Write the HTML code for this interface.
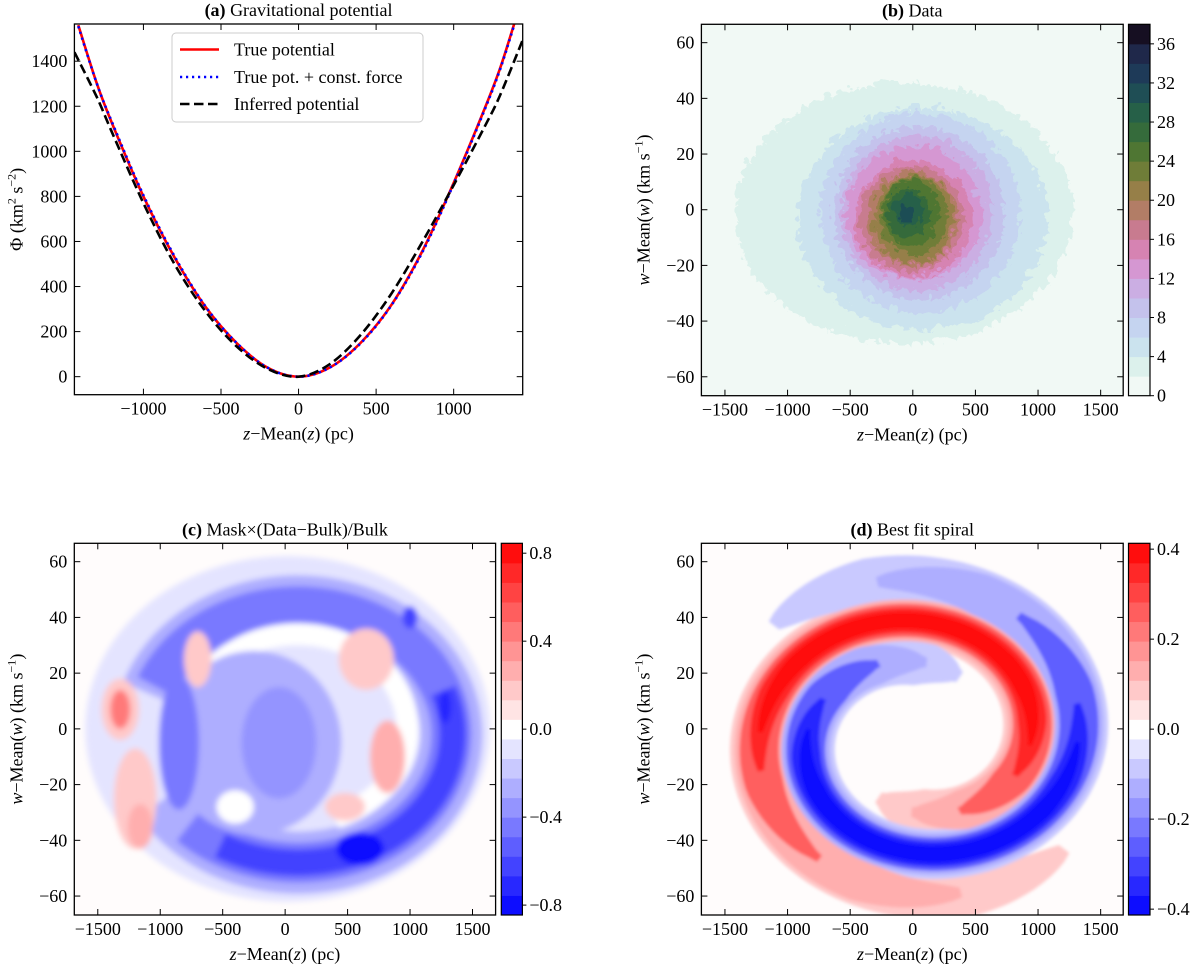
<!DOCTYPE html>
<html><head><meta charset="utf-8"><title>Potential and spiral figure</title>
<style>
html,body{margin:0;padding:0;background:#fff;}
svg{display:block;font-family:"Liberation Serif","DejaVu Serif",serif;}
</style></head>
<body>
<svg id="fig" width="1200" height="965" viewBox="0 0 1200 965" xmlns="http://www.w3.org/2000/svg">
<defs>
<filter id="blur3" x="-10%" y="-10%" width="120%" height="120%"><feGaussianBlur stdDeviation="3"/></filter>
<filter id="blur2" x="-10%" y="-10%" width="120%" height="120%"><feGaussianBlur stdDeviation="1.6"/></filter>
<filter id="rough" x="-10%" y="-10%" width="120%" height="120%">
<feTurbulence type="turbulence" baseFrequency="0.09" numOctaves="2" seed="4" result="t"/>
<feDisplacementMap in="SourceGraphic" in2="t" scale="14" xChannelSelector="R" yChannelSelector="G"/>
</filter>
</defs>
</svg>
<script>
// ---------- Panel (a) data ----------
const zTrue = [-1420,-1300,-1200,-1000,-800,-600,-400,-200,0,200,400,600,800,1000,1200,1300,1390];
const phiTrue = [1560,1300,1120,800,530,310,150,40,0,40,150,320,560,860,1190,1370,1565];
const zConst = [-1420,-1300,-1200,-1000,-800,-600,-400,-200,0,200,400,600,800,1000,1200,1300,1390];
const phiConst = [1555,1300,1125,805,535,312,150,40,0,40,148,318,555,855,1185,1365,1560];
const zInf = [-1445,-1300,-1200,-1000,-800,-600,-400,-200,0,200,400,600,800,1000,1200,1300,1445];
const phiInf = [1440,1240,1080,770,500,290,135,35,0,55,185,370,600,850,1110,1250,1494];
const aXTicks = [-1000,-500,0,500,1000];
const aYTicks = [0,200,400,600,800,1000,1200,1400];
// ---------- Panel (b) data: contour level regions ----------
const bLevels = [2,4,6,8,10,12,14,16,18,20,22,24,26,28,30];
const bCenterZ = [-100,50,30,20,0,-20,-30,-40,-30,-20,-20,-40,-60,-60,-80];
const bCenterW = [0,-2,0,0,0,0,-2,-2,-2,-2,-1,0,0,1,0];
const bSemiZ = [1350,1000,800,680,600,540,470,420,360,320,270,220,170,120,70];
const bSemiW = [47,40,36,31,28,24,21,19,17,16,14,12,9,6,3];
const bCbTicks = [0,4,8,12,16,20,24,28,32,36];
const bCbColors = ['#f1f9f5','#dcf1ec','#cbe3ee','#c5d4f0','#c4c2ec','#cbaee3','#d597d2','#d683b2','#c87b8f','#b27d66','#967f48','#6f7d38','#4f7633','#356b3b','#266048','#1f4e55','#1e3a58','#1f284a','#160f22'];
// ---------- Panel (c) data: blobs (cz, cw, rz, rw, value) ----------
const cBlobZ = [-250,-850,-50,-400,650,820,480,-700,-1200,-1160,-1320,-1320,600,1280,1000];
const cBlobW = [-5,-5,-5,-28,25,-10,-28,25,-25,-35,7,7,-43,8,40];
const cBlobRZ = [700,160,300,150,220,140,160,110,170,100,150,80,190,50,60];
const cBlobRW = [33,24,20,6,11,13,5,10,18,8,11,7,6,6,4];
const cBlobV = [-0.3,-0.45,-0.38,0.0,0.2,0.28,0.15,0.2,0.15,0.3,0.2,0.45,-0.85,-0.7,-0.6];
const cCbTicks = [0.8,0.4,0.0,-0.4,-0.8];
// ---------- Panel (d) data: spiral arm layers ----------
const dStart = [-120,-95,-65,-25,-5];
const dEnd = [320,285,235,195,180];
const dHalf = [0.18,0.15,0.12,0.09,0.06];
const dValue = [0.07,0.15,0.25,0.35,0.4];
const dCbTicks = [0.4,0.2,0.0,-0.2,-0.4];

const svg = document.getElementById('fig');
const NS = 'http://www.w3.org/2000/svg';
const FS = 18;
function mk(tag, attrs, parent){
  const e = document.createElementNS(NS, tag);
  for (const k in attrs) e.setAttribute(k, attrs[k]);
  (parent||svg).appendChild(e);
  return e;
}
function X(p,z){return p.x0+(z-p.xl[0])/(p.xl[1]-p.xl[0])*(p.x1-p.x0);}
function Y(p,w){return p.y1-(w-p.yl[0])/(p.yl[1]-p.yl[0])*(p.y1-p.y0);}
function bwr(v,vmax){
  let t=Math.max(-1,Math.min(1,v/vmax));
  let idx=Math.min(18,Math.floor((t+1)/(2/19)));
  t=-1+(idx+0.5)*2/19;
  if(Math.abs(t)<1e-6) return '#ffffff';
  if(t<0){const c=Math.round(255*(1+t));return `rgb(${c},${c},255)`;}
  const c=Math.round(255*(1-t));return `rgb(255,${c},${c})`;
}
const PA={x0:74.4,x1:522.7,y0:24,y1:394.7,xl:[-1445,1445],yl:[-80,1565]};
const PB={x0:701.4,x1:1123.2,y0:24.3,y1:395.7,xl:[-1688,1680],yl:[-66.8,66.6]};
const PC={x0:74.3,x1:495.6,y0:543.3,y1:915,xl:[-1688,1685],yl:[-66.8,66.6]};
const PD={x0:701.4,x1:1123.2,y0:543.3,y1:915,xl:[-1688,1680],yl:[-66.8,66.6]};
const zTicks=[-1500,-1000,-500,0,500,1000,1500];
const wTicks=[-60,-40,-20,0,20,40,60];
function fmt(v){return (v<0?'\u2212':'')+Math.abs(v);}

function clipFor(p,id){
  const cp=mk('clipPath',{id:id},svg.querySelector('defs'));
  mk('rect',{x:p.x0,y:p.y0,width:p.x1-p.x0,height:p.y1-p.y0},cp);
}

function axes(p,name,title,xt,yt,ylabelKind){
  const g=mk('g',{});
  
  
  const fr=mk('rect',{x:p.x0,y:p.y0,width:p.x1-p.x0,height:p.y1-p.y0,fill:'none',stroke:'#000','stroke-width':1.3},g);
  
  
  xt.forEach(v=>{
    const x=X(p,v);
    mk('line',{x1:x,x2:x,y1:p.y1,y2:p.y1-6,stroke:'#000','stroke-width':1},g);
    mk('line',{x1:x,x2:x,y1:p.y0,y2:p.y0+6,stroke:'#000','stroke-width':1},g);
    const t=mk('text',{x:x,y:p.y1+20,'text-anchor':'middle','font-size':FS},g);
    t.textContent=fmt(v);
    
    
  });
  yt.forEach(v=>{
    const y=Y(p,v);
    mk('line',{x1:p.x0,x2:p.x0+6,y1:y,y2:y,stroke:'#000','stroke-width':1},g);
    mk('line',{x1:p.x1,x2:p.x1-6,y1:y,y2:y,stroke:'#000','stroke-width':1},g);
    const t=mk('text',{x:p.x0-7,y:y+6,'text-anchor':'end','font-size':FS},g);
    t.textContent=fmt(v);
    
    
  });
  const xl=mk('text',{x:(p.x0+p.x1)/2,y:p.y1+45,'text-anchor':'middle','font-size':FS},g);
  xl.innerHTML='<tspan font-style="italic">z</tspan>\u2212Mean(<tspan font-style="italic">z</tspan>) (pc)';
  
  
  const cy=(p.y0+p.y1)/2, lx=p.x0-52;
  const yl=mk('text',{x:lx,y:cy,'text-anchor':'middle','font-size':FS,transform:`rotate(-90 ${lx} ${cy})`},g);
  if(ylabelKind==='phi') yl.innerHTML='\u03A6 (km<tspan dy="-7" font-size="12">2</tspan><tspan dy="7"> s</tspan><tspan dy="-7" font-size="12">\u22122</tspan><tspan dy="7">)</tspan>';
  else yl.innerHTML='<tspan font-style="italic">w</tspan>\u2212Mean(<tspan font-style="italic">w</tspan>) (km s<tspan dy="-7" font-size="12">\u22121</tspan><tspan dy="7">)</tspan>';
  
  
  const tt=mk('text',{x:(p.x0+p.x1)/2,y:p.y0-8,'text-anchor':'middle','font-size':FS},g);
  tt.innerHTML=title;
  
  
}

function colorbar(x0,x1,y0,y1,name,colors,vmin,vmax,ticks,dec){
  const g=mk('g',{});
  
  
  const n=colors.length,h=(y1-y0)/n;
  colors.forEach((c,i)=>{
    const r=mk('rect',{x:x0,y:y1-(i+1)*h,width:x1-x0,height:h+0.5,fill:c},g);
    
    
  });
  mk('rect',{x:x0,y:y0,width:x1-x0,height:y1-y0,fill:'none',stroke:'#000','stroke-width':1.2},g);
  ticks.forEach(v=>{
    const y=y1-(v-vmin)/(vmax-vmin)*(y1-y0);
    mk('line',{x1:x1,x2:x1+4,y1:y,y2:y,stroke:'#000','stroke-width':1},g);
    const t=mk('text',{x:x1+7,y:y+6,'font-size':FS},g);
    t.textContent=dec?( (v<0?'\u2212':'')+Math.abs(v).toFixed(1) ):fmt(v);
    
    
  });
}

// ================= Panel A =================
function smoothPath(p,zs,vs){
  const pts=zs.map((z,i)=>[X(p,z),Y(p,vs[i])]);
  let d=`M${pts[0][0]},${pts[0][1]}`;
  for(let i=0;i<pts.length-1;i++){
    const p0=pts[Math.max(0,i-1)],p1=pts[i],p2=pts[i+1],p3=pts[Math.min(pts.length-1,i+2)];
    const c1=[p1[0]+(p2[0]-p0[0])/6,p1[1]+(p2[1]-p0[1])/6];
    const c2=[p2[0]-(p3[0]-p1[0])/6,p2[1]-(p3[1]-p1[1])/6];
    d+=` C${c1[0]},${c1[1]} ${c2[0]},${c2[1]} ${p2[0]},${p2[1]}`;
  }
  return d;
}
clipFor(PA,'clipA');
const gA=mk('g',{'clip-path':'url(#clipA)'});


const lTrue=mk('path',{d:smoothPath(PA,zTrue,phiTrue),fill:'none',stroke:'#ff0000','stroke-width':2.6},gA);


const lConst=mk('path',{d:smoothPath(PA,zConst,phiConst),fill:'none',stroke:'#0000ff','stroke-width':2.6,'stroke-dasharray':'2.2,3.8'},gA);


const lInf=mk('path',{d:smoothPath(PA,zInf,phiInf),fill:'none',stroke:'#000','stroke-width':2.6,'stroke-dasharray':'9.5,4.5'},gA);


axes(PA,'panel-a','<tspan font-weight="bold">(a)</tspan> Gravitational potential',aXTicks,aYTicks,'phi');
// legend
const lg=mk('g',{});


mk('rect',{x:172,y:33,width:251,height:89,rx:4,fill:'#fff','fill-opacity':0.9,stroke:'#cccccc','stroke-width':1},lg);
const legItems=[['True potential','#ff0000',null],['True pot. + const. force','#0000ff','2.2,3.8'],['Inferred potential','#000','9.5,4.5']];
legItems.forEach((it,i)=>{
  const y=[49.5,77,104][i];
  const ln=mk('line',{x1:180,x2:219,y1:y,y2:y,stroke:it[1],'stroke-width':2.6},lg);
  if(it[2]) ln.setAttribute('stroke-dasharray',it[2]);
  const t=mk('text',{x:234,y:y+6,'font-size':FS},lg);
  t.textContent=it[0];
  
  
});

// ================= Panel B =================
clipFor(PB,'clipB');
const gB=mk('g',{'clip-path':'url(#clipB)'});


mk('rect',{x:PB.x0,y:PB.y0,width:PB.x1-PB.x0,height:PB.y1-PB.y0,fill:bCbColors[0]},gB);
const gBr=mk('g',{filter:'url(#rough)'},gB);
bLevels.forEach((lv,i)=>{
  const cx=X(PB,bCenterZ[i]),cy=Y(PB,bCenterW[i]);
  const rx=X(PB,bCenterZ[i]+bSemiZ[i])-cx, ry=cy-Y(PB,bCenterW[i]+bSemiW[i]);
  const e=mk('ellipse',{cx:cx,cy:cy,rx:rx,ry:ry,fill:bCbColors[Math.min(18,lv/2)]},gBr);
  
  
});
axes(PB,'panel-b','<tspan font-weight="bold">(b)</tspan> Data',zTicks,wTicks,'w');
colorbar(1128.5,1150,24.3,395.7,'panel-b',bCbColors,0,38,bCbTicks,false);

// ================= Panel C =================
function arcPath(p,cz,cw,rz,rw,a1,a2){
  let d='';const n=80;
  for(let i=0;i<=n;i++){
    const a=(a1+(a2-a1)*i/n)*Math.PI/180;
    const x=X(p,cz+rz*Math.cos(a)),y=Y(p,cw+rw*Math.sin(a));
    d+=(i?'L':'M')+x.toFixed(1)+','+y.toFixed(1);
  }
  return d;
}
clipFor(PC,'clipC');
const gC=mk('g',{'clip-path':'url(#clipC)'});


mk('rect',{x:PC.x0,y:PC.y0,width:PC.x1-PC.x0,height:PC.y1-PC.y0,fill:'#fffcfc'},gC);
const gCb=mk('g',{filter:'url(#blur3)'},gC);
mk('ellipse',{cx:X(PC,20),cy:Y(PC,0),rx:X(PC,1620)-X(PC,0),ry:Y(PC,0)-Y(PC,62),fill:bwr(-0.12,0.85)},gCb);
mk('path',{d:arcPath(PC,100,-2,1230,46,162,-150),fill:'none',stroke:bwr(-0.25,0.85),'stroke-width':62},gCb);
const ring=mk('path',{d:arcPath(PC,100,-2,1230,46,158,-135),fill:'none',stroke:bwr(-0.45,0.85),'stroke-width':40},gCb);


mk('path',{d:arcPath(PC,100,-2,1240,46,20,-120),fill:'none',stroke:bwr(-0.62,0.85),'stroke-width':26},gCb);
mk('path',{d:arcPath(PC,100,0,880,34,150,-70),fill:'none',stroke:'#ffffff','stroke-width':22},gCb);
cBlobZ.forEach((z,i)=>{
  const cx=X(PC,z),cy=Y(PC,cBlobW[i]);
  const e=mk('ellipse',{cx:cx,cy:cy,rx:X(PC,z+cBlobRZ[i])-cx,ry:cy-Y(PC,cBlobW[i]+cBlobRW[i]),fill:bwr(cBlobV[i],0.85)},gCb);
  
  
});
axes(PC,'panel-c','<tspan font-weight="bold">(c)</tspan> Mask\u00D7(Data\u2212Bulk)/Bulk',zTicks,wTicks,'w');
const cCols=[];for(let i=0;i<19;i++)cCols.push(bwr(-0.85+(i+0.5)*1.7/19,0.85));
colorbar(501.3,522.4,543.3,915,'panel-c',cCols,-0.845,0.845,cCbTicks,true);

// ================= Panel D =================
function spiralPoly(p,off,a1,a2,h){
  const outer=[],inner=[];
  for(let th=a1;th<=a2;th+=3){
    const taper=Math.sqrt(Math.max(0.05,Math.min(1,(th-a1)/35,(a2-th)/35)));
    const r=0.69+0.0016*(th-off), hh=h*taper;
    const a=th*Math.PI/180;
    outer.push([X(p,50+1300*(r+hh)*Math.cos(a)),Y(p,-3+50*(r+hh)*Math.sin(a))]);
    inner.push([X(p,50+1300*(r-hh)*Math.cos(a)),Y(p,-3+50*(r-hh)*Math.sin(a))]);
  }
  const pts=outer.concat(inner.reverse());
  return 'M'+pts.map(q=>q[0].toFixed(1)+','+q[1].toFixed(1)).join('L')+'Z';
}
clipFor(PD,'clipD');
const gD=mk('g',{'clip-path':'url(#clipD)'});


mk('rect',{x:PD.x0,y:PD.y0,width:PD.x1-PD.x0,height:PD.y1-PD.y0,fill:'#fffcfc'},gD);
const gDb=mk('g',{filter:'url(#blur2)'},gD);
dStart.forEach((a1,i)=>{
  const r=mk('path',{d:spiralPoly(PD,0,a1,dEnd[i],dHalf[i]),fill:bwr(dValue[i],0.413)},gDb);
  
  
  const b=mk('path',{d:spiralPoly(PD,180,a1+180,dEnd[i]+180,dHalf[i]),fill:bwr(-dValue[i],0.413)},gDb);
  
  
});
axes(PD,'panel-d','<tspan font-weight="bold">(d)</tspan> Best fit spiral',zTicks,wTicks,'w');
const dCols=[];for(let i=0;i<19;i++)dCols.push(bwr(-0.85+(i+0.5)*1.7/19,0.85));
colorbar(1128.5,1150,543.3,915,'panel-d',dCols,-0.413,0.413,dCbTicks,true);
</script>
</body></html>
